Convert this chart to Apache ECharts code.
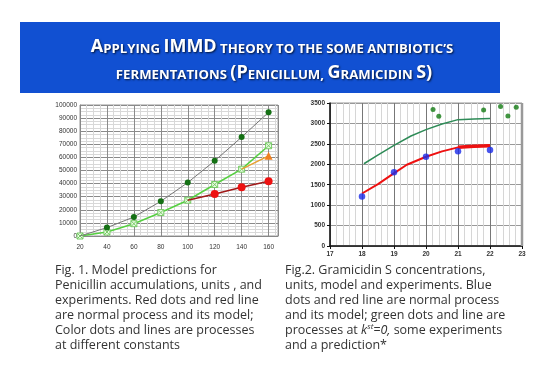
<!DOCTYPE html>
<html><head><meta charset="utf-8">
<script src="https://cdn.jsdelivr.net/npm/echarts@6/dist/echarts.min.js"></script>
<style>html,body{margin:0;padding:0;background:#fff}#c{width:554px;height:389px}</style>
</head><body><div id="c"></div>
<script>
// ---- Fig. 1 data (Penicillin) ----
const fig1X = [20, 40, 60, 80, 100, 120, 140, 160];
const fig1Gray = [0, 6400, 14500, 26500, 40800, 57400, 75500, 94400];
const fig1Green = [0, 3000, 9400, 17900, 27300, 39300, 51000, 68900];
const fig1OrangeX = [140, 160];
const fig1Orange = [51000, 61200];
const fig1RedX = [100, 120, 140, 160];
const fig1Red = [27300, 32100, 37200, 41800];
// ---- Fig. 2 data (Gramicidin S) ----
const fig2GreenLineX = [18.06, 18.48, 19, 19.53, 20, 20.5, 21, 21.5, 22];
const fig2GreenLine = [2013, 2218, 2463, 2692, 2848, 2987, 3093, 3110, 3118];
const fig2RedLineX = [18, 18.5, 18.9, 19.4, 20, 20.5, 21, 21.5, 22];
const fig2RedLine = [1285, 1514, 1727, 1989, 2185, 2316, 2414, 2440, 2455];
const fig2BlueX = [18, 19, 20, 21, 22];
const fig2Blue = [1211, 1808, 2185, 2316, 2349];
const fig2GreenPtsX = [20.22, 20.4, 21.8, 22.33, 22.56, 22.82];
const fig2GreenPts = [3338, 3175, 3330, 3412, 3183, 3396];
// ---- texts ----
const titleLine1 = '{L|A}{s|PPLYING }{L|IMMD}{s| THEORY TO THE SOME ANTIBIOTIC\u2019S}';
const titleLine2 = '{s|FERMENTATIONS }{L|(P}{s|ENICILLUM, }{L|G}{s|RAMICIDIN }{L|S)}';
const caption1 = ['Fig. 1. Model predictions for', 'Penicillin accumulations, units , and', 'experiments. Red dots and red line', 'are normal process and its model;', 'Color dots and lines are processes', 'at different constants'];
const caption2 = ['Fig.2. Gramicidin S concentrations,', 'units, model and experiments. Blue', 'dots and red line are normal process', 'and its model; green dots and line are', 'processes at {i|k}{sup|st}{i|=0,} some experiments', 'and a prediction*'];

const zip = (xs, ys) => xs.map((x, i) => [x, ys[i]]);
const axisFont = { fontSize: 6.5, color: '#333', fontFamily: 'Liberation Sans Narrow, Liberation Sans, sans-serif' };
const chart = echarts.init(document.getElementById('c'), null, { renderer: 'canvas' });

const xMark = 'path://M0,0L10,0L10,10L0,10ZM0,0L10,10M10,0L0,10';
const tFont = 'Open Sans, Lato, sans-serif';
const shadow = { textShadowColor: 'rgba(0,0,0,0.75)', textShadowBlur: 2, textShadowOffsetX: 1, textShadowOffsetY: 1 };
const titleRich = {
  L: { fontSize: 18, fontWeight: 'bold', fontFamily: tFont, fill: '#fff', verticalAlign: 'bottom', ...shadow },
  s: { fontSize: 13.2, fontWeight: 'bold', fontFamily: tFont, fill: '#fff', verticalAlign: 'bottom', ...shadow }
};
const capFont = 'Open Sans, Lato, sans-serif';

chart.setOption({
  backgroundColor: '#fff',
  animation: false,
  grid: [
    { left: 80, top: 105, width: 198, height: 131, show: true, borderColor: '#999', borderWidth: 1, backgroundColor: '#fff' },
    { left: 330, top: 103, width: 192, height: 143, show: true, borderColor: '#999', borderWidth: 1, backgroundColor: '#fff' }
  ],
  xAxis: [
    { gridIndex: 0, type: 'value', min: 20, max: 167, interval: 20,
      axisLine: { show: true, lineStyle: { color: '#888' } }, axisTick: { show: false },
      axisLabel: { ...axisFont, margin: 8, formatter: v => (v % 20 === 0 ? String(v) : '') },
      splitLine: { show: true, lineStyle: { color: '#8a8a8a', width: 1 } },
      minorTick: { show: false, splitNumber: 4 },
      minorSplitLine: { show: true, lineStyle: { color: '#d8d8d8', width: 1 } } },
    { gridIndex: 1, type: 'value', min: 17, max: 23, interval: 1,
      axisLine: { show: true, lineStyle: { color: '#111', width: 1.5 } },
      axisTick: { show: true, length: 3, lineStyle: { color: '#111' } },
      axisLabel: { ...axisFont, fontWeight: 'bold', margin: 5, formatter: v => String(v) },
      splitLine: { show: true, lineStyle: { color: '#777', width: 1 } },
      minorTick: { show: false, splitNumber: 5 },
      minorSplitLine: { show: true, lineStyle: { color: '#d6d6d6', width: 1 } } }
  ],
  yAxis: [
    { gridIndex: 0, type: 'value', min: 0, max: 100000, interval: 10000,
      axisLine: { show: true, lineStyle: { color: '#888' } }, axisTick: { show: false },
      axisLabel: { ...axisFont, margin: 3, formatter: v => String(v) },
      splitLine: { show: true, lineStyle: { color: '#8a8a8a', width: 1 } },
      minorTick: { show: false, splitNumber: 4 },
      minorSplitLine: { show: true, lineStyle: { color: '#d8d8d8', width: 1 } } },
    { gridIndex: 1, type: 'value', min: 0, max: 3500, interval: 500,
      axisLine: { show: true, lineStyle: { color: '#111', width: 1.5 } },
      axisTick: { show: true, length: 3, lineStyle: { color: '#111' } },
      axisLabel: { ...axisFont, fontWeight: 'bold', margin: 5, formatter: v => String(v) },
      splitLine: { show: true, lineStyle: { color: '#999', width: 1 } } }
  ],
  series: [
    { type: 'line', xAxisIndex: 0, yAxisIndex: 0, data: zip(fig1X, fig1Green), z: 3,
      lineStyle: { color: '#55d040', width: 1.5 }, symbol: xMark, symbolSize: 6,
      itemStyle: { color: '#eafbe4', borderColor: '#77cc66', borderWidth: 1 } },
    { type: 'line', xAxisIndex: 0, yAxisIndex: 0, data: zip(fig1OrangeX, fig1Orange).map((d, i) => ({ value: d, symbol: i === 0 ? 'none' : 'triangle' })), z: 4,
      lineStyle: { color: '#e8a030', width: 1.5 }, symbolSize: 8, itemStyle: { color: '#f08020' } },
    { type: 'line', xAxisIndex: 0, yAxisIndex: 0, data: zip(fig1RedX, fig1Red).map((d, i) => ({ value: d, symbol: i === 0 ? 'none' : 'circle' })), z: 4,
      lineStyle: { color: '#a01818', width: 1.5 }, symbolSize: 8, itemStyle: { color: '#ee1111' } },
    { type: 'line', xAxisIndex: 0, yAxisIndex: 0, data: zip(fig1X, fig1Gray).map((d, i) => ({ value: d, symbol: i === 0 ? 'none' : 'circle' })), z: 5,
      lineStyle: { color: '#777', width: 1 }, symbolSize: 6, itemStyle: { color: '#147014' } },

    { type: 'line', xAxisIndex: 1, yAxisIndex: 1, data: zip(fig2GreenLineX, fig2GreenLine), z: 3,
      lineStyle: { color: '#2e8b57', width: 1.5 }, symbol: 'none' },
    { type: 'line', xAxisIndex: 1, yAxisIndex: 1, data: zip(fig2RedLineX, fig2RedLine), z: 3,
      lineStyle: { color: '#ee1111', width: 2 }, symbol: 'none' },
    { type: 'line', xAxisIndex: 1, yAxisIndex: 1, data: zip(fig2RedLineX.slice(6), fig2RedLine.slice(6)), z: 3,
      lineStyle: { color: '#ee1111', width: 3.5 }, symbol: 'none' },
    { type: 'scatter', xAxisIndex: 1, yAxisIndex: 1, data: zip(fig2BlueX, fig2Blue), z: 5,
      symbol: 'circle', symbolSize: 6.5, itemStyle: { color: '#1a2ae8' } },
    { type: 'scatter', xAxisIndex: 1, yAxisIndex: 1, data: zip(fig2GreenPtsX, fig2GreenPts), z: 5,
      symbol: 'circle', symbolSize: 5, itemStyle: { color: '#137a13' } }
  ],
  graphic: [
    { type: 'rect', shape: { x: 20, y: 22, width: 480, height: 71 }, style: { fill: '#1150d2' }, z: 0 },
    { type: 'line', shape: { x1: 522, y1: 103, x2: 522, y2: 246 }, style: { stroke: '#999', lineWidth: 2.5 }, z: 10 },
    { type: 'text', x: 272, y: 47, z: 10,
      style: { text: titleLine1, align: 'center', verticalAlign: 'middle', fill: '#fff', rich: titleRich } },
    { type: 'text', x: 274, y: 73, z: 10,
      style: { text: titleLine2, align: 'center', verticalAlign: 'middle', fill: '#fff', rich: titleRich } },
    { type: 'text', x: 55, y: 263, z: 10,
      style: { text: caption1.join('\n'), fontSize: 12.5, lineHeight: 15, fill: '#333', fontFamily: capFont } },
    { type: 'text', x: 285, y: 263, z: 10,
      style: { text: caption2.join('\n'), fontSize: 12.5, lineHeight: 15, fill: '#333', fontFamily: capFont,
        rich: {
          i: { fontSize: 12.5, fontStyle: 'italic', fill: '#333', fontFamily: capFont, lineHeight: 15 },
          sup: { fontSize: 8, fontStyle: 'italic', fill: '#333', fontFamily: capFont, verticalAlign: 'top', lineHeight: 15 }
        } } }
  ]
});
</script></body></html>
